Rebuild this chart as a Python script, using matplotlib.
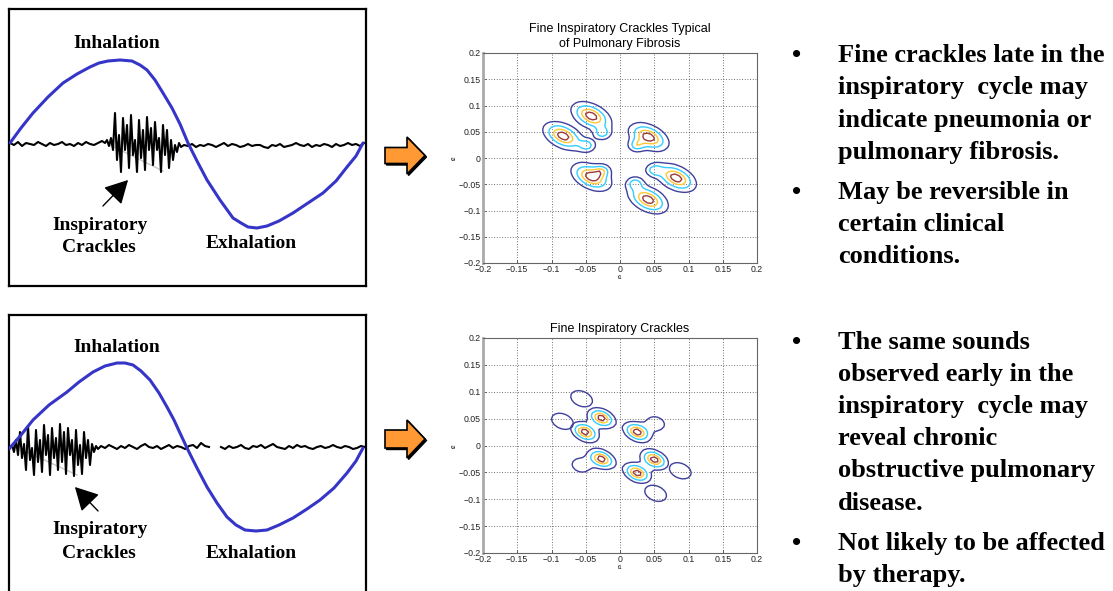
import numpy as np
import matplotlib.pyplot as plt
from matplotlib.patches import Polygon

W, H = 1113, 591

# breathing cycle (sample position, amplitude) - upper panel
flow_top_t = [1, 12, 24, 39, 54, 68, 81, 90, 99, 111, 123, 131, 138, 146, 154, 163, 171, 179,
              188, 198, 211, 224, 232, 239, 248, 258, 270, 284, 299, 314, 327, 338, 347, 354]
flow_top_a = [0, 15, 30, 46, 60, 69, 76, 80, 82, 83, 82, 78, 73, 63, 50, 35, 19, 0,
              -18, -37, -57, -75, -80, -84, -85, -83, -78, -70, -60, -50, -38, -24, -13, 0]

# breathing cycle - lower panel
flow_bot_t = [0, 12, 24, 40, 58, 70, 84, 96, 108, 116, 124, 132, 141, 150, 158, 165, 171, 178,
              188, 198, 208, 218, 227, 236, 247, 258, 270, 284, 298, 311, 325, 338, 347, 354]
flow_bot_a = [-1, 13, 28, 43, 56, 66, 76, 82, 85, 85, 83, 77, 68, 55, 41, 28, 15, 0,
              -20, -39, -55, -69, -77, -82, -83, -82, -77, -70, -61, -52, -40, -25, -13, 0]

# lung sound trace, upper panel (late crackles)
snd_top_pre = [0, -2, 1, -3, 0, -1, -2, 1, -1, -3, 0, -2, -1, 1, -2, -1, -3, 0, -2, 1, -1, -2, 0, 2]
snd_top_burst = [0, 3, -3, 5, -7, 30, -17, 8, -29, 25, -7, 18, -25, 28, -12, 3, -29, 23, -15, 13,
                 -27, 26, -7, 15, -22, 21, -7, 5, -29, 18, -12, 13, -25, 3, -17, -2, -9, 0, -4]
snd_top_post = [-2, -3, -1, -4, -2, -3, -1, -2, -4, -2, 0, -3, -1, -2, -4, -3, -1, -3, -2, -2,
                -4, -5, -2, -3, -1, -4, -3, -2, 0, -2, -3, -1, -4, -2, -3, -1, -2, -4, -1, -3,
                -2, 0, -2, -1, -3, 0]

# lung sound trace, lower panel (early crackles)
snd_bot_burst = [0, 3, -4, 8, -7, 16, -10, 4, -22, 22, -12, 0, -27, 18, -14, 8, -24, 23, -7, 13,
                 -27, 20, -10, 10, -22, 24, -14, 16, -26, 20, -7, 8, -28, 18, -17, 3, -26, 16, -10, 8,
                 -17, 4, -4, 2, -1]
snd_bot_post = [2, 0, 3, 1, -1, 2, 0, 3, 1, -1, 2, 4, 1, 0, 2, -1, 1, 3, 0, 2,
                1, -1, 2, 3, 0, 5, 2, 1, np.nan, np.nan, 1, -1, 2, 0, 1, 3, 0, -1, 2, 1,
                3, 0, 2, 4, 1, 0, -1, 2, 0, 3, 1, 2, 0, -1, 1, 2, 0, 1, 3, 1,
                0, 2, 1, -1, 0, 2, 1]

# contour blobs (t1, t2 centres)
fib_main_x = [-0.042, -0.083, 0.042, -0.042, 0.082, 0.041]
fib_main_y = [0.080, 0.042, 0.040, -0.036, -0.038, -0.079]
fib_side_x = [-0.026, -0.048, 0.024, -0.026, 0.050, 0.022]
fib_side_y = [0.047, 0.024, 0.024, -0.024, -0.023, -0.048]

copd_main_x = [-0.027, -0.051, 0.025, -0.027, 0.050, 0.025]
copd_main_y = [0.051, 0.025, 0.025, -0.025, -0.026, -0.051]
copd_joined_x = [0.052, -0.057]        # outer lobes merged into a main blob
copd_joined_y = [0.041, -0.037]
copd_lone_x = [-0.056, -0.084, 0.088, 0.052]   # separate outer lobes
copd_lone_y = [0.087, 0.045, -0.047, -0.089]

tick_vals = [-0.2, -0.15, -0.1, -0.05, 0, 0.05, 0.1, 0.15, 0.2]
tick_labels = ['\u22120.2', '\u22120.15', '\u22120.1', '\u22120.05', '0', '0.05', '0.1', '0.15', '0.2']
levels = [0.2, 0.45, 0.7, 0.88]
level_colors = ['#40409c', '#33ccff', '#ffc833', '#9c3a3a']

bullets_top = [['Fine crackles late in the', 'inspiratory  cycle may', 'indicate pneumonia or',
                'pulmonary fibrosis.'],
               ['May be reversible in', 'certain clinical', 'conditions.']]
bullets_bot = [['The same sounds', 'observed early in the', 'inspiratory  cycle may', 'reveal chronic',
                'obstructive pulmonary', 'disease.'],
               ['Not likely to be affected', 'by therapy.']]

SERIF = 'Liberation Serif'
SANS = 'Liberation Sans'


def px_axes(x0, y0, x1, y1):
    return fig.add_axes([x0 / W, 1 - y1 / H, (x1 - x0) / W, (y1 - y0) / H])


def field(X, Y, cx, cy, amp, s1, s2, ang=-40):
    Z = np.zeros_like(X)
    c, s = np.cos(np.radians(ang)), np.sin(np.radians(ang))
    for x0, y0 in zip(cx, cy):
        u = (X - x0) * c + (Y - y0) * s
        v = -(X - x0) * s + (Y - y0) * c
        Z += amp * np.exp(-u**2 / (2 * s1**2) - v**2 / (2 * s2**2))
    return Z


def wave_panel(ax, ft, fa, st, sa, gray, labels, arrow, ylim, show_bottom=True):
    ax.set_xlim(0, 357)
    ax.set_ylim(*ylim)
    ax.set_xticks([])
    ax.set_yticks([])
    for sp in ax.spines.values():
        sp.set_linewidth(1.6)
        sp.set_color('black')
    if not show_bottom:
        ax.spines['bottom'].set_visible(False)
    ax.plot(gray[0], gray[1], color='#c8c8c8', lw=1.0, zorder=1)
    ax.plot(st, sa, color='black', lw=1.5, zorder=2)
    ax.plot(ft, fa, color='#3535c8', lw=2.2, zorder=3, solid_capstyle='round')
    for txt, x, y in labels:
        ax.text(x, y, txt, family=SERIF, weight='bold', fontsize=14, ha='center', va='center')
    ax.annotate('', xy=arrow[1], xytext=arrow[0],
                arrowprops=dict(arrowstyle='-|>,head_length=0.65,head_width=0.35',
                                color='black', lw=1.0, mutation_scale=22))


def contour_axes(ax, title):
    ax.set_xlim(-0.2, 0.2)
    ax.set_ylim(-0.2, 0.2)
    ax.set_xticks(tick_vals)
    ax.set_yticks(tick_vals)
    ax.set_xticklabels(tick_labels, family=SANS, fontsize=6.3)
    ax.set_yticklabels(tick_labels, family=SANS, fontsize=6.3)
    ax.tick_params(direction='in', length=2, width=0.5, pad=1.5, colors='#222222')
    ax.grid(True, color='#444444', lw=0.6, linestyle=(0, (1, 2.2)))
    for sp in ax.spines.values():
        sp.set_linewidth(0.8)
        sp.set_color('#666666')
    ax.spines['left'].set_color('#aaaaaa')
    ax.spines['left'].set_linewidth(2)
    ax.set_title(title, family=SANS, fontsize=9, pad=4, linespacing=1.4)
    ax.set_xlabel('t1', family=SANS, fontsize=4, labelpad=1)
    ax.set_ylabel('t2', family=SANS, fontsize=4, labelpad=1)


fig = plt.figure(figsize=(W / 100, H / 100), dpi=100)

# left: flow curves with lung sounds
ax1 = px_axes(9, 9, 366, 286)
top_t = list(np.arange(1, 94, 4)) + list(np.arange(96, 173, 2)) + list(np.arange(175, 356, 4))
wave_panel(ax1, flow_top_t, flow_top_a, top_t, snd_top_pre + snd_top_burst + snd_top_post,
           ([101, 154], [-2, -28]),
           [('Inhalation', 108, 100), ('Inspiratory', 91, -82), ('Crackles', 90, -105),
            ('Exhalation', 242, -101)],
           ((92, -65), (121, -35)), (-143, 134))

ax2 = px_axes(9, 315, 366, 591)
bot_t = list(np.arange(1, 90, 2)) + list(np.arange(92, 357, 4))
wave_panel(ax2, flow_bot_t, flow_bot_a, bot_t, snd_bot_burst + snd_bot_post,
           ([18, 68], [-4, -27]),
           [('Inhalation', 108, 101), ('Inspiratory', 91, -82), ('Crackles', 90, -105),
            ('Exhalation', 242, -105)],
           ((91, -65), (64, -37)), (-143, 133), show_bottom=False)

# middle: contour plots
g = np.linspace(-0.2, 0.2, 81)
X, Y = np.meshgrid(g, g)

ax3 = px_axes(483, 53, 757, 263)
Z3 = field(X, Y, fib_main_x, fib_main_y, 1.0, 0.019, 0.012) + \
    field(X, Y, fib_side_x, fib_side_y, 0.55, 0.008, 0.008)
ax3.contour(X, Y, Z3, levels=levels, colors=level_colors, linewidths=1.0)
contour_axes(ax3, 'Fine Inspiratory Crackles Typical\nof Pulmonary Fibrosis')

ax4 = px_axes(483, 338, 757, 553)
Z4 = field(X, Y, copd_main_x, copd_main_y, 1.0, 0.013, 0.009) + \
    field(X, Y, copd_joined_x, copd_joined_y, 0.35, 0.013, 0.011)
ax4.contour(X, Y, Z4, levels=levels, colors=level_colors, linewidths=1.0)
Z4b = field(X, Y, copd_lone_x, copd_lone_y, 0.4, 0.015, 0.011)
ax4.contour(X, Y, Z4b, levels=levels[:1], colors=level_colors[:1], linewidths=1.0)
contour_axes(ax4, 'Fine Inspiratory Crackles')

# overlay for block arrows and bullet text
ov = fig.add_axes([0, 0, 1, 1], zorder=-1)
ov.set_xlim(0, W)
ov.set_ylim(H, 0)
ov.axis('off')
for yc, body, head in [(155.5, 8, 18.5), (439, 9, 19)]:
    pts = [(385, yc - body), (407, yc - body), (407, yc - head), (425, yc),
           (407, yc + head), (407, yc + body), (385, yc + body)]
    shadow = [(x + 1.5, y + 1.5) for x, y in pts]
    ov.add_patch(Polygon(shadow, closed=True, facecolor='black', edgecolor='black', lw=1))
    ov.add_patch(Polygon(pts, closed=True, facecolor='#ff9933', edgecolor='black', lw=1.2))

for groups, baselines in [(bullets_top, [62, 94, 127, 159, 199, 231, 263]),
                          (bullets_bot, [349, 381, 413, 445, 477, 510, 550, 582])]:
    k = 0
    for group in groups:
        for j, line in enumerate(group):
            y = 1 - baselines[k] / H
            if j == 0:
                fig.text(797 / W, y, '\u2022', family=SERIF, weight='bold', fontsize=19,
                         ha='center', va='baseline')
            fig.text(838 / W, y, line, family=SERIF, weight='bold', fontsize=19,
                     ha='left', va='baseline')
            k += 1

fig.savefig('out.png', dpi=100)
